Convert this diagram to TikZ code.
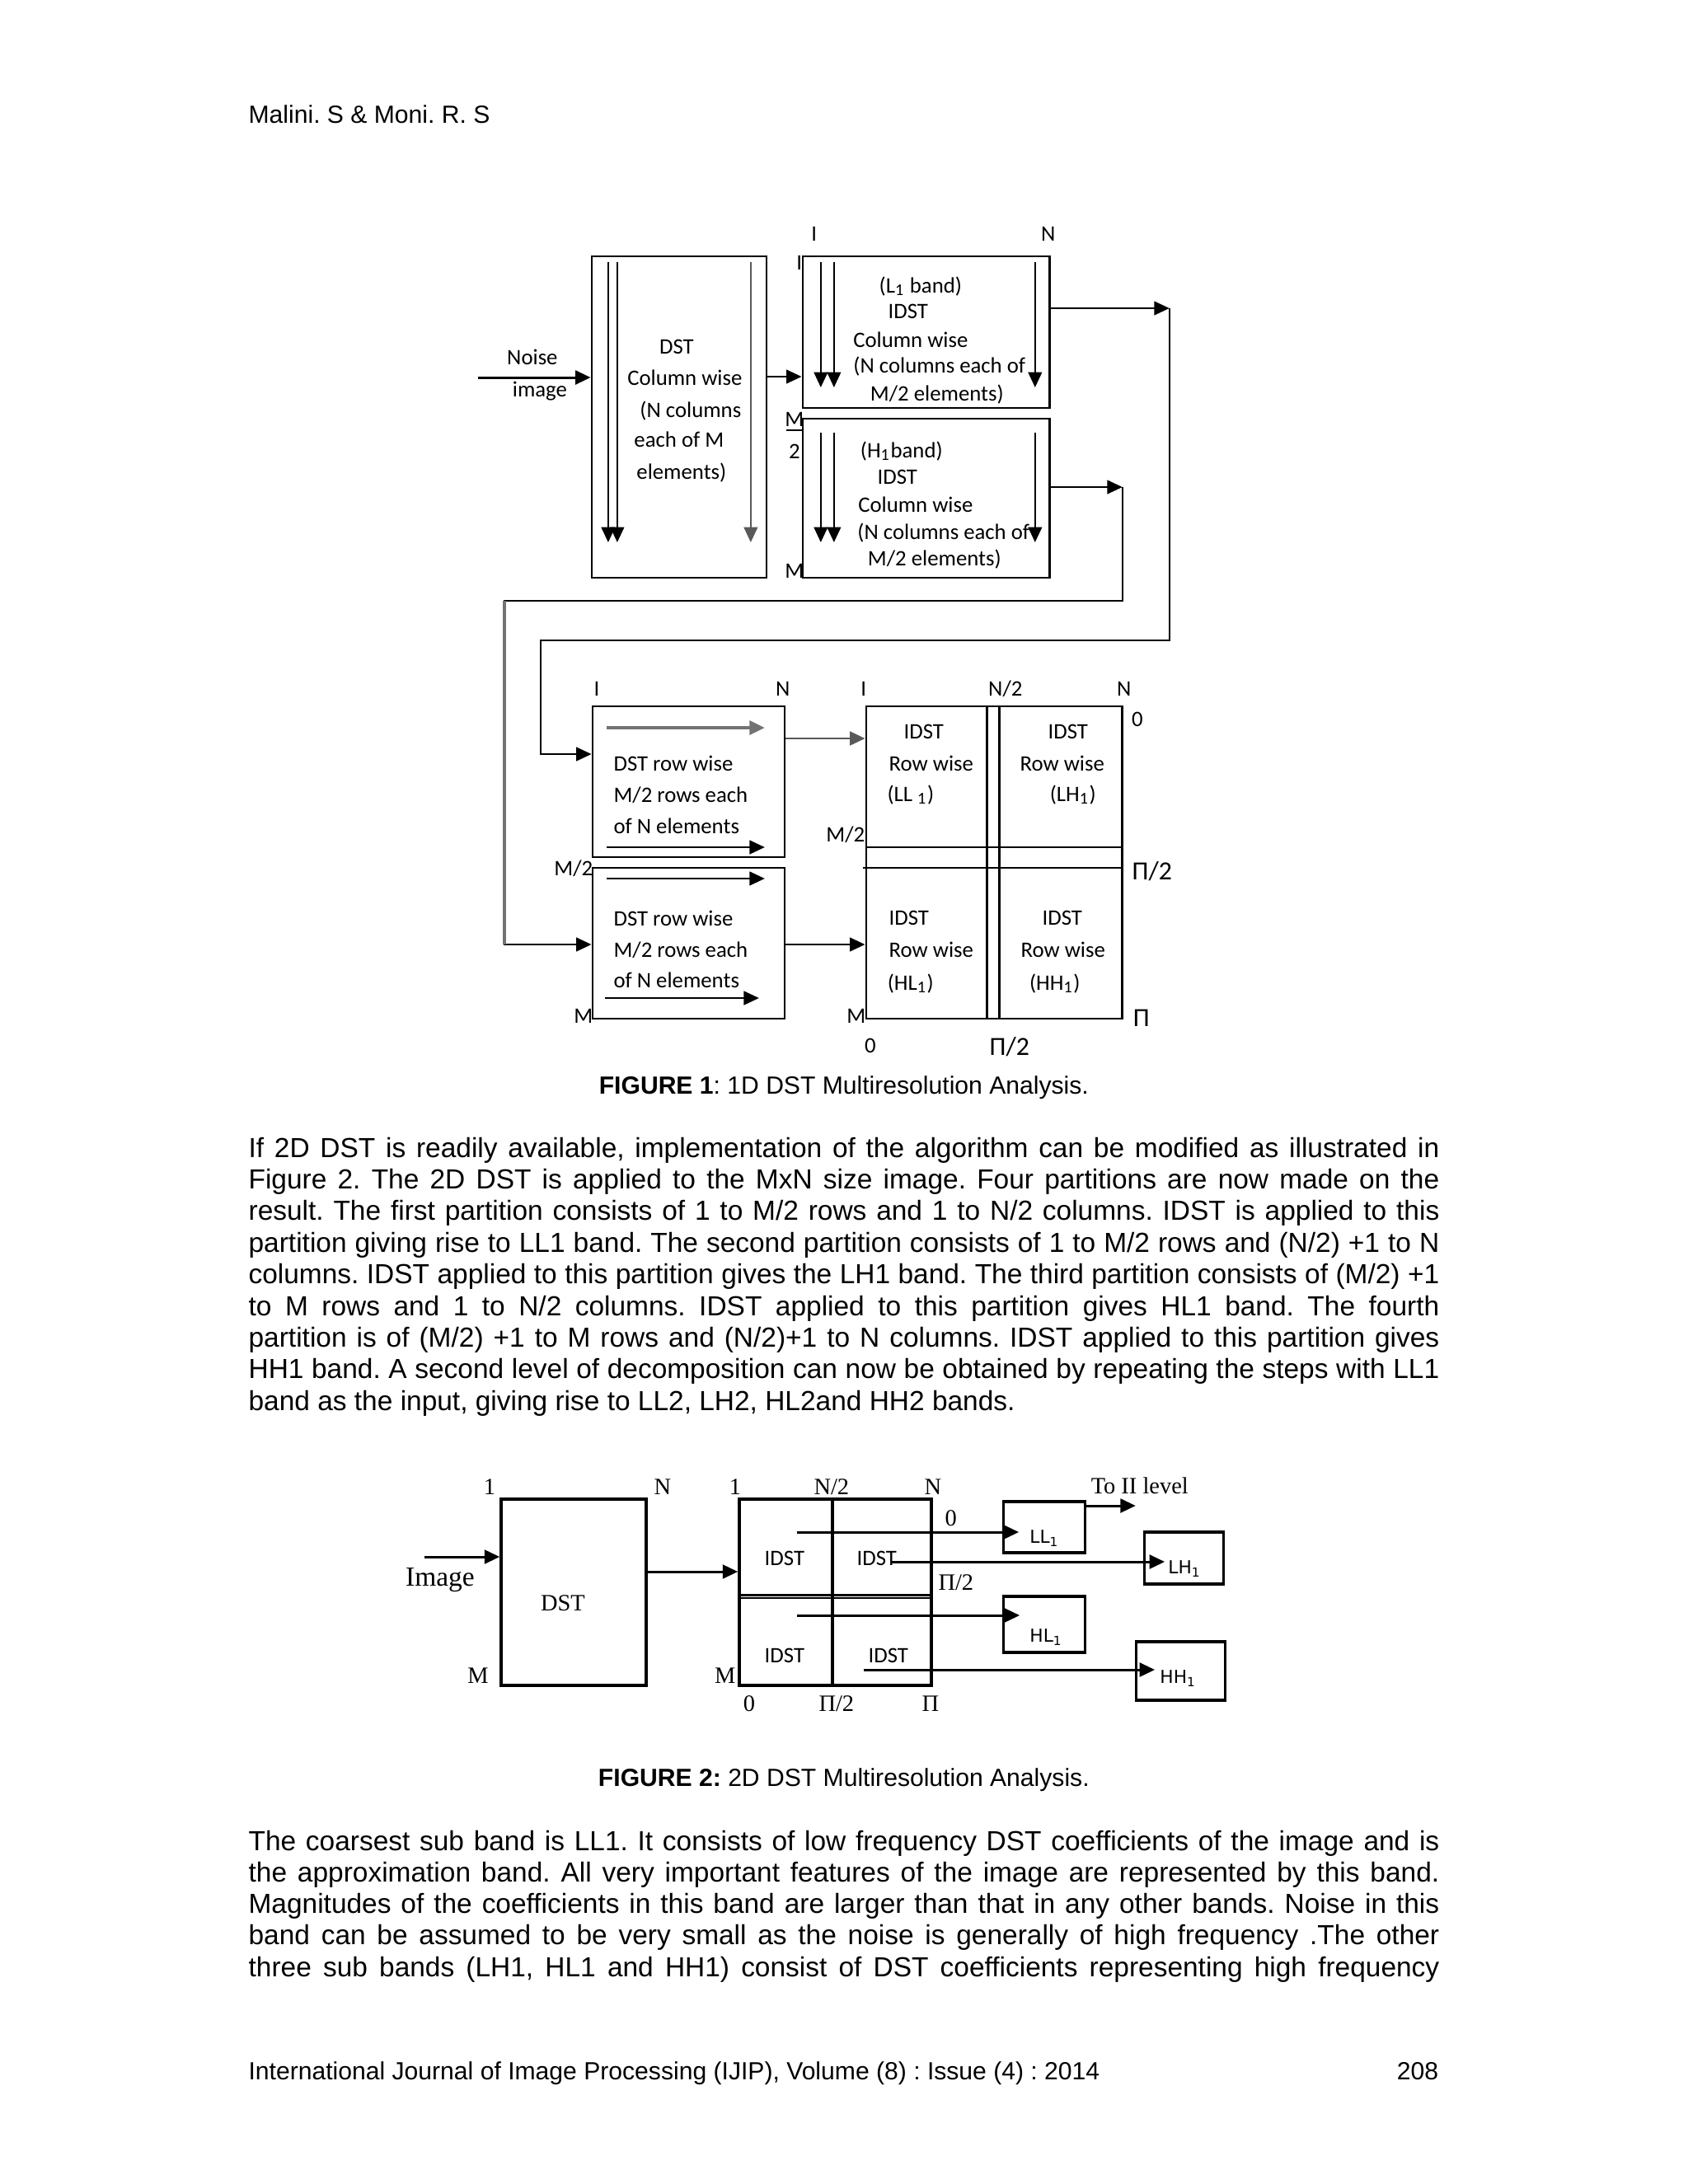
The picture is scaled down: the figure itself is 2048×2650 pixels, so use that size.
\documentclass[tikz,border=0pt]{standalone}
\usepackage{fontspec}
\setmainfont{Liberation Sans}
\newfontfamily\figfont{Carlito}
\newfontfamily\serfont{Liberation Serif}
\newfontfamily\bandfont{DejaVu Sans}
\usetikzlibrary{arrows.meta,fit}
\frenchspacing

\begin{document}
\begin{tikzpicture}[x=0.298828pt,y=-0.298868pt,
  >={Triangle[length=5.5pt,width=5pt]},
  box/.style={draw,line width=0.8pt,inner sep=0pt},
  boxb/.style={draw,line width=1pt,inner sep=0pt},
  flow/.style={->,line width=0.6pt},
  flowb/.style={->,line width=0.9pt},
  cl/.style={font=\figfont\fontsize{8}{9.6}\selectfont,inner sep=0pt,text height=1.4ex,text depth=0pt,yshift=1pt},
  cbig/.style={font=\figfont\fontsize{9.5}{11}\selectfont,inner sep=0pt,text height=1.4ex,text depth=0pt},
  sl/.style={font=\serfont\fontsize{8.5}{10}\selectfont,inner sep=0pt,text height=1.4ex,text depth=0pt},
  bl/.style={font=\bandfont\fontsize{6.5}{8}\selectfont,inner sep=0pt,anchor=west,text height=1.4ex,text depth=0pt},
  body/.style={font=\fontsize{10}{11.5}\selectfont,inner sep=0pt,anchor=base west},
  capt/.style={font=\fontsize{9}{10.5}\selectfont,inner sep=0pt,anchor=base}]

  \path[use as bounding box,fill=white] (0,0) rectangle (2048,2650);

  \node[font=\fontsize{9}{10.5}\selectfont,inner sep=0pt,anchor=base west] (head) at (301,149) {Malini. S \& Moni. R. S};

  % figure 1, column transform
  \node[box,fit={(718,311) (930,701)}] (dst) {};
  \node[box,fit={(974,311) (1274,495)}] (lband) {};
  \node[box,fit={(974,508) (1274,701)}] (hband) {};

  \foreach \x in {738,749}
    \draw[flow] (\x,318) -- (\x,658);
  \draw[flow,black!65] (911,318) -- (911,658);
  \foreach \x in {996,1012,1256} {
    \draw[flow] (\x,318) -- (\x,470);
    \draw[flow] (\x,525) -- (\x,658);
  }

  \node[cl] (noise) at (646,433) {Noise};
  \node[cl] (image) at (655,472) {image};
  \coordinate (src) at (580,458);
  \draw[flow,line width=0.9pt] (src) -- (dst.west |- src);

  \foreach \x/\y/\t [count=\i] in {821/420/DST,831/458/Column wise,838/497/(N columns,824/533/each of M,827/572/elements)}
    \node[cl] (dtxt\i) at (\x,\y) {\t};
  \foreach \x/\y/\t [count=\i] in {1117/346/(L\textsubscript{1} band),1102/377/IDST,1105/412/Column wise,1140/443/(N columns each of,1137/477/{M/2 elements)}}
    \node[cl] (ltxt\i) at (\x,\y) {\t};
  \foreach \x/\y/\t [count=\i] in {1094/546/(H\textsubscript{1}band),1089/578/IDST,1111/612/Column wise,1145/645/(N columns each of,1134/677/{M/2 elements)}}
    \node[cl] (htxt\i) at (\x,\y) {\t};

  \draw[flow] (dst.east |- 0,457) -- (lband.west |- 0,457);

  \foreach \x/\y/\t [count=\i] in {988/283/I,1272/283/N,970/318/I,964/692/M,964/508/M,964/547/2}
    \node[cl] (tl\i) at (\x,\y) {\t};
  \draw[line width=0.6pt] (954,522) -- (974,522);

  \coordinate (lc) at (1419,374);
  \coordinate (hc) at (1362,591);
  \draw[flow] (lband.east |- lc) -- (lc);
  \draw[flow] (hband.east |- hc) -- (hc);

  % figure 1, row transform
  \node[box,fit={(719,857) (952,1040)}] (rowa) {};
  \node[box,fit={(719,1053) (952,1236)}] (rowb) {};
  \node[box,fit={(1051,857) (1362,1236)}] (quad) {};
  \foreach \x in {1198,1213}
    \draw[line width=0.8pt] (\x,857) -- (\x,1236);
  \draw[line width=0.8pt] (1051,1028) -- (1362,1028);
  \draw[line width=0.8pt] (1047,1053) -- (1362,1053);

  \draw[flow] (lc) -- (lc |- 0,777) -- (656,777) -- (656,915) -- (rowa.west |- 0,915);
  \draw[flow] (hc) -- (hc |- 0,729) -- (612,729) -- (612,1146) -- (rowb.west |- 0,1146);
  \draw[black!55,line width=1.3pt] (612,729) -- (612,1146);

  \draw[flow,black!55,line width=1.2pt] (736,883) -- (928,883);
  \foreach \y in {1028,1066}
    \draw[flow] (736,\y) -- (928,\y);
  \draw[flow] (734,1211) -- (921,1211);

  \foreach \y/\t [count=\i] in {926/DST row wise,964/{M/2 rows each},1002/of N elements,1114/DST row wise,1152/{M/2 rows each},1189/of N elements}
    \node[cl,anchor=west] (rtxt\i) at (744,\y) {\t};

  \draw[flow,black!65,line width=0.8pt] (rowa.east |- 0,896) -- (quad.west |- 0,896);
  \draw[flow] (rowb.east |- 0,1146) -- (quad.west |- 0,1146);

  \foreach \x/\y/\t [count=\i] in {1121/887/IDST,1130/926/Row wise,1105/963/(LL \textsubscript{1}),
      1296/887/IDST,1289/926/Row wise,1302/963/(LH\textsubscript{1}),
      1103/1113/IDST,1130/1152/Row wise,1105/1192/(HL\textsubscript{1}),
      1289/1113/IDST,1290/1152/Row wise,1280/1192/(HH\textsubscript{1})}
    \node[cl] (qtxt\i) at (\x,\y) {\t};

  \foreach \x/\y/\t [count=\i] in {724/835/I,950/835/N,1048/835/I,1220/835/{N/2},1364/835/N,1380/872/0,1056/1268/0}
    \node[cl] (bl\i) at (\x,\y) {\t};
  \foreach \x/\y/\t [count=\i] in {720/1053/{M/2},720/1232/M,1050/1012/{M/2},1051/1232/M}
    \node[cl,anchor=east] (br\i) at (\x,\y) {\t};
  \foreach \x/\y/\t [count=\i] in {1398/1055/{Π/2},1385/1233/Π,1225/1268/{Π/2}}
    \node[cbig] (pl\i) at (\x,\y) {\t};

  \node[capt] (capa) at (1024,1327) {\textbf{FIGURE 1}: 1D DST Multiresolution Analysis.};

  \foreach \t [count=\i] in {
    {If 2D DST is readily available, implementation of the algorithm can be modified as illustrated in},
    {Figure 2. The 2D DST is applied to the MxN size image. Four partitions are now made on the},
    {result. The first partition consists of 1 to M/2 rows and 1 to N/2 columns. IDST is applied to this},
    {partition giving rise to LL1 band. The second partition consists of 1 to M/2 rows and (N/2) +1 to N},
    {columns. IDST applied to this partition gives the LH1 band. The third partition consists of (M/2) +1},
    {to M rows and 1 to N/2 columns. IDST applied to this partition gives HL1 band. The fourth},
    {partition is of (M/2) +1 to M rows and (N/2)+1 to N columns. IDST applied to this partition gives},
    {HH1 band. A second level of decomposition can now be obtained by repeating the steps with LL1}}
    \node[body] (pa\i) at (301,{1404+(\i-1)*38.4}) {\makebox[431.8pt][s]{\t}};
  \node[body] (pa9) at (301,1711) {band as the input, giving rise to LL2, LH2, HL2and HH2 bands.};

  % figure 2
  \node[boxb,fit={(608,1819) (784,2045)}] (dstb) {};
  \node[boxb,fit={(897,1819) (1130,2045)}] (quadb) {};
  \draw[line width=1pt] (1010,1819) -- (1010,2045);
  \draw[line width=0.8pt] (897,1935.5) -- (1130,1935.5);
  \draw[line width=0.8pt] (897,1939) -- (1130,1939);

  \node[font=\serfont\fontsize{10}{12}\selectfont,inner sep=0pt] (imgb) at (534,1917) {Image};
  \node[sl] (dstlb) at (683,1942) {DST};
  \coordinate (srcb) at (515,1889);
  \draw[flowb] (srcb) -- (dstb.west |- srcb);
  \draw[flowb] (dstb.east |- 0,1907) -- (quadb.west |- 0,1907);

  \foreach \x/\y/\t [count=\i] in {594/1801/1,804/1801/N,580/2030/M,892/1801/1,1009/1801/{N/2},1132/1801/N,
      880/2030/M,909/2064/0,1015/2064/{Π/2},1129/2064/Π,1154/1839/0,1160/1917/{Π/2},1383/1800/To II level}
    \node[sl] (sb\i) at (\x,\y) {\t};
  \foreach \x/\y [count=\i] in {952/1890,1064/1890,952/2008,1078/2008}
    \node[cl] (idst\i) at (\x,\y) {IDST};

  \node[boxb,fit={(1218,1822) (1317,1884)}] (ll) {};
  \node[boxb,fit={(1389,1859) (1485,1922)}] (lh) {};
  \node[boxb,fit={(1218,1937) (1317,2005)}] (hl) {};
  \node[boxb,fit={(1379,1992) (1487,2063)}] (hh) {};
  \node[bl] (lltx) at (1249,1860) {LL\textsubscript{1}};
  \node[bl] (lhtx) at (1417,1897) {LH\textsubscript{1}};
  \node[bl] (hltx) at (1249,1980) {HL\textsubscript{1}};
  \node[bl] (hhtx) at (1407,2030) {HH\textsubscript{1}};

  \draw[flowb] (967,1859) -- (ll.west |- 0,1859) -- ++(20,0);
  \draw[flowb] (1081,1895) -- (lh.west |- 0,1895) -- ++(26,0);
  \draw[flowb] (967,1960) -- (hl.west |- 0,1960) -- ++(21,0);
  \draw[flowb] (1048,2026) -- (hh.west |- 0,2026) -- ++(24,0);
  \draw[flowb] (ll.east |- 0,1827) -- (1378,1827);

  \node[capt] (capb) at (1024,2167) {\textbf{FIGURE 2:} 2D DST Multiresolution Analysis.};

  \foreach \t [count=\i] in {
    {The coarsest sub band is LL1. It consists of low frequency DST coefficients of the image and is},
    {the approximation band. All very important features of the image are represented by this band.},
    {Magnitudes of the coefficients in this band are larger than that in any other bands. Noise in this},
    {band can be assumed to be very small as the noise is generally of high frequency .The other},
    {three sub bands (LH1, HL1 and HH1) consist of DST coefficients representing high frequency}}
    \node[body] (pb\i) at (301,{2245+(\i-1)*38.3}) {\makebox[431.8pt][s]{\t}};

  \node[font=\fontsize{9}{10.5}\selectfont,inner sep=0pt,anchor=base west] (footl) at (301,2523) {International Journal of Image Processing (IJIP), Volume (8) : Issue (4) : 2014};
  \node[font=\fontsize{9}{10.5}\selectfont,inner sep=0pt,anchor=base east] (footr) at (1746,2523) {208};
\end{tikzpicture}
\end{document}
